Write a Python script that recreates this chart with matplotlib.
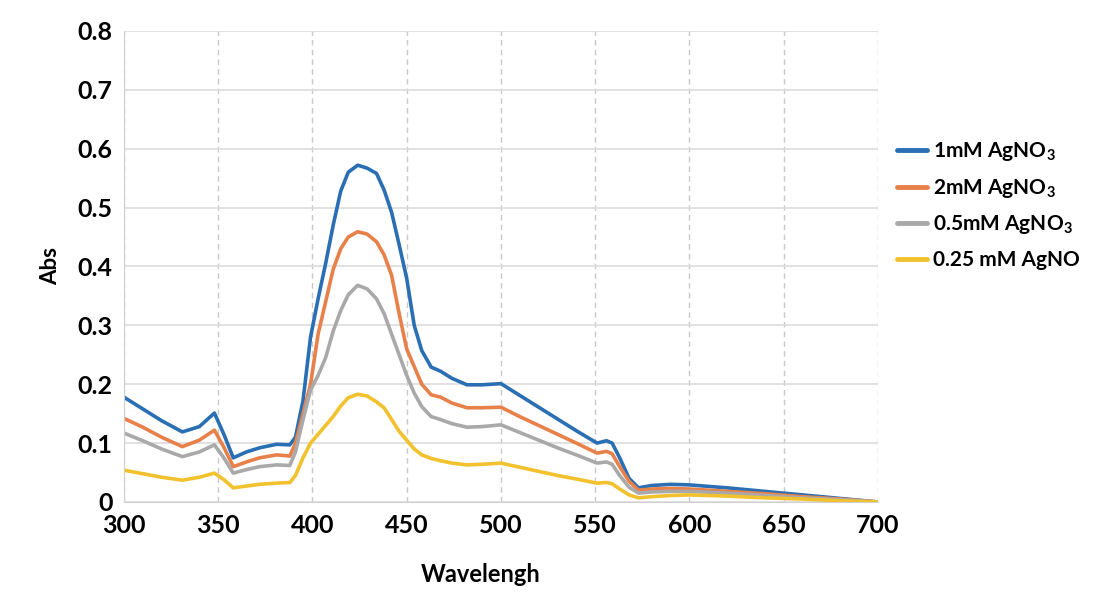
import matplotlib
matplotlib.use("Agg")
import matplotlib.pyplot as plt

#%% data
wavelength = [300, 310, 320, 331, 340, 348, 353, 358, 365, 372, 381, 388, 391, 395,
              399, 403, 407, 411, 415, 419, 424, 429, 434, 438, 442, 446, 450, 454,
              458, 463, 468, 474, 482, 490, 500, 510, 520, 530, 540, 551, 556, 559,
              563, 568, 573, 580, 590, 600, 620, 640, 660, 680, 700]

abs_1mM = [0.178, 0.158, 0.138, 0.119, 0.128, 0.151, 0.115, 0.075, 0.085, 0.092, 0.098, 0.097, 0.110, 0.172,
           0.280, 0.345, 0.405, 0.470, 0.528, 0.560, 0.572, 0.567, 0.558, 0.530, 0.492, 0.437, 0.380, 0.300,
           0.257, 0.229, 0.222, 0.210, 0.199, 0.199, 0.201, 0.181, 0.161, 0.141, 0.121, 0.100, 0.104, 0.100,
           0.075, 0.040, 0.024, 0.028, 0.030, 0.029, 0.024, 0.018, 0.012, 0.006, 0.0]

abs_2mM = [0.142, 0.127, 0.110, 0.094, 0.105, 0.122, 0.093, 0.060, 0.068, 0.075, 0.080, 0.078, 0.100, 0.150,
           0.200, 0.285, 0.340, 0.395, 0.430, 0.450, 0.459, 0.455, 0.442, 0.420, 0.385, 0.320, 0.260, 0.230,
           0.200, 0.182, 0.178, 0.168, 0.160, 0.160, 0.161, 0.145, 0.130, 0.115, 0.100, 0.083, 0.086, 0.082,
           0.060, 0.035, 0.020, 0.022, 0.023, 0.022, 0.018, 0.014, 0.009, 0.005, 0.0]

abs_05mM = [0.117, 0.104, 0.090, 0.077, 0.085, 0.097, 0.075, 0.049, 0.055, 0.060, 0.063, 0.062, 0.085, 0.140,
            0.190, 0.215, 0.245, 0.290, 0.325, 0.352, 0.368, 0.362, 0.345, 0.320, 0.285, 0.250, 0.215, 0.185,
            0.162, 0.145, 0.140, 0.133, 0.127, 0.128, 0.131, 0.118, 0.105, 0.092, 0.080, 0.066, 0.068, 0.064,
            0.045, 0.025, 0.015, 0.017, 0.018, 0.018, 0.015, 0.011, 0.007, 0.004, 0.0]

abs_025mM = [0.054, 0.048, 0.042, 0.037, 0.042, 0.049, 0.038, 0.024, 0.027, 0.030, 0.032, 0.033, 0.045, 0.075,
             0.100, 0.115, 0.130, 0.145, 0.163, 0.177, 0.183, 0.180, 0.170, 0.160, 0.140, 0.120, 0.105, 0.090,
             0.080, 0.074, 0.070, 0.066, 0.063, 0.064, 0.066, 0.059, 0.052, 0.045, 0.039, 0.032, 0.033, 0.031,
             0.022, 0.012, 0.007, 0.009, 0.011, 0.012, 0.010, 0.007, 0.005, 0.002, 0.0]

labels = ['1mM AgNO$_3$', '2mM AgNO$_3$', '0.5mM AgNO$_3$', '0.25 mM AgNO']
colors = ['#2a6fb4', '#e8804a', '#a9a9a9', '#f2c12e']
x_ticks = [300, 350, 400, 450, 500, 550, 600, 650, 700]
y_ticks = [0, 0.1, 0.2, 0.3, 0.4, 0.5, 0.6, 0.7, 0.8]
y_ticklabels = ['0', '0.1', '0.2', '0.3', '0.4', '0.5', '0.6', '0.7', '0.8']

#%% plot
plt.rcParams['font.family'] = ['Lato', 'DejaVu Sans']
plt.rcParams['mathtext.fontset'] = 'custom'
plt.rcParams['mathtext.rm'] = 'Lato:bold'

fig = plt.figure(figsize=(10.93, 5.93), dpi=100)
ax = fig.add_axes([0.1134, 0.1535, 0.6898, 0.7943])

for ys, lab, c in zip([abs_1mM, abs_2mM, abs_05mM, abs_025mM], labels, colors):
    ax.plot(wavelength, ys, color=c, lw=2.6, label=lab, solid_capstyle='round', solid_joinstyle='round')

ax.set_xlim(300, 700)
ax.set_ylim(0, 0.8)
ax.set_xticks(x_ticks)
ax.set_yticks(y_ticks)
ax.set_yticklabels(y_ticklabels)
ax.tick_params(length=0, labelsize=18)
ax.tick_params(axis='x', pad=9)
ax.tick_params(axis='y', pad=8)
for t in ax.get_xticklabels() + ax.get_yticklabels():
    t.set_fontweight('bold')

ax.yaxis.grid(True, color='#dcdcdc', lw=1.2, ls='-')
ax.xaxis.grid(True, color='#c8c8c8', lw=1.0, ls=(0, (4, 3)))
ax.set_axisbelow(True)
for s in ['top', 'right']:
    ax.spines[s].set_visible(False)
for s in ['left', 'bottom']:
    ax.spines[s].set_color('#d0d0d0')

ax.set_xlabel('Wavelengh', fontsize=17, fontweight='bold')
ax.xaxis.set_label_coords(0.473, -0.13)
ax.set_ylabel('Abs', fontsize=16, fontweight='bold', labelpad=12)

leg = ax.legend(loc='center left', bbox_to_anchor=(0.8207, 0.654), bbox_transform=fig.transFigure,
                frameon=False, handlelength=1.45, handletextpad=0.3,
                labelspacing=0.65, borderpad=0, borderaxespad=0,
                prop={'weight': 'bold', 'size': 15})
for line in leg.get_lines():
    line.set_linewidth(3.5)

fig.savefig('out.png', dpi=100)
